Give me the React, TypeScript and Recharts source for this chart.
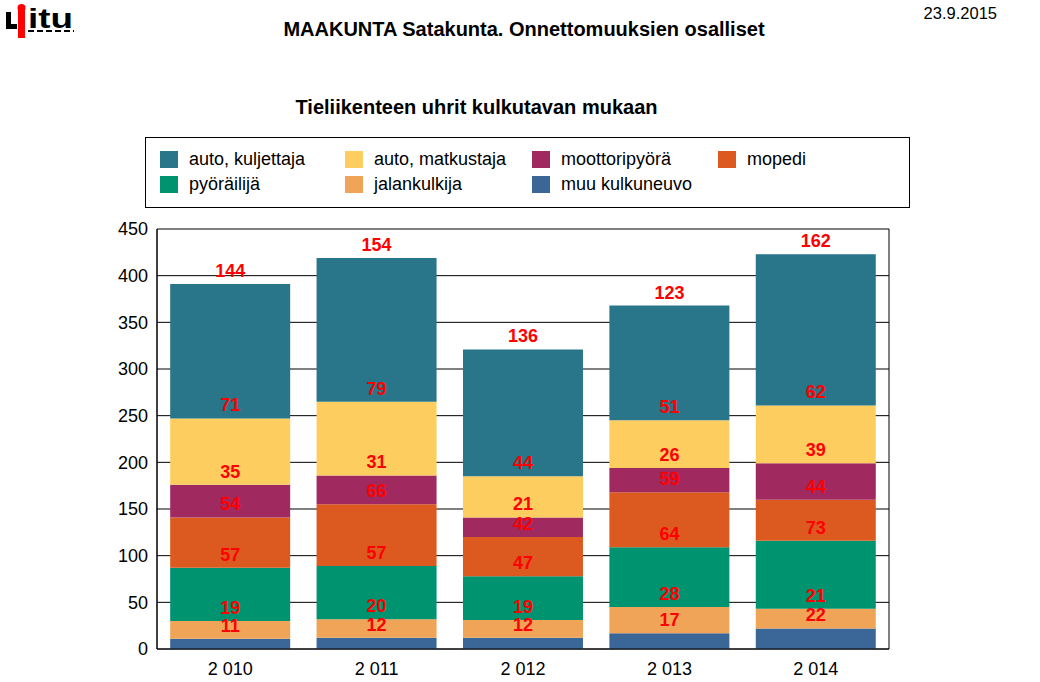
import { Bar, CartesianGrid, ComposedChart, LabelList, Line, XAxis, YAxis } from 'recharts';

const years = ['2 010', '2 011', '2 012', '2 013', '2 014'];
const muu = [11, 12, 12, 17, 22];
const jalankulkija = [19, 20, 19, 28, 21];
const pyorailija = [57, 57, 47, 64, 73];
const mopedi = [54, 66, 42, 59, 44];
const moottoripyora = [35, 31, 21, 26, 39];
const matkustaja = [71, 79, 44, 51, 62];
const kuljettaja = [144, 154, 136, 123, 162];
const yTicks = [0, 50, 100, 150, 200, 250, 300, 350, 400, 450];

// bottom to top stacking order
const series = [
  { key: 'muu', name: 'muu kulkuneuvo', values: muu, color: '#3b6698' },
  { key: 'jalan', name: 'jalankulkija', values: jalankulkija, color: '#efa457' },
  { key: 'pyora', name: 'pyöräilijä', values: pyorailija, color: '#009370' },
  { key: 'mopedi', name: 'mopedi', values: mopedi, color: '#dc5a1f' },
  { key: 'moottori', name: 'moottoripyörä', values: moottoripyora, color: '#a02a60' },
  { key: 'matk', name: 'auto, matkustaja', values: matkustaja, color: '#fecd60' },
  { key: 'kulj', name: 'auto, kuljettaja', values: kuljettaja, color: '#29758a' },
];

const data = years.map((year, i) => {
  const row: Record<string, number | string> = { year };
  let sum = 0;
  series.forEach((s) => {
    sum += s.values[i];
    row[s.key] = s.values[i];
    row[s.key + '_top'] = sum;
  });
  return row;
});

const legendItems = [
  { name: 'auto, kuljettaja', color: '#29758a', x: 160, y: 151 },
  { name: 'auto, matkustaja', color: '#fecd60', x: 345, y: 151 },
  { name: 'moottoripyörä', color: '#a02a60', x: 532, y: 151 },
  { name: 'mopedi', color: '#dc5a1f', x: 718, y: 151 },
  { name: 'pyöräilijä', color: '#009370', x: 160, y: 176 },
  { name: 'jalankulkija', color: '#efa457', x: 345, y: 176 },
  { name: 'muu kulkuneuvo', color: '#3b6698', x: 532, y: 176 },
];

const font = '"Liberation Sans", Arial, sans-serif';

function Logo() {
  return (
    <svg width={95} height={40} style={{ position: 'absolute', left: 0, top: 0 }}>
      <rect x={6} y={12} width={5} height={17} fill="#000" />
      <rect x={6} y={24} width={11} height={5} fill="#000" />
      <rect x={18} y={10} width={7} height={28} fill="#f00" />
      <circle cx={21.5} cy={8} r={4} fill="#f00" />
      <text x={28} y={28} fontFamily={font} fontWeight="bold" fontSize={27} fill="#000" textLength={45} lengthAdjust="spacingAndGlyphs">itu</text>
      <line x1={28} y1={31} x2={74} y2={31} stroke="#000" strokeWidth={2} strokeDasharray="6 3" />
    </svg>
  );
}

export default function App() {
  return (
    <div style={{ position: 'absolute', left: 0, top: 0, width: 1040, height: 682, background: '#fff', fontFamily: font, color: '#000' }}>
      <Logo />
      <div style={{ position: 'absolute', right: 43, top: 3, fontSize: 16.5, lineHeight: '20px' }}>23.9.2015</div>
      <div style={{ position: 'absolute', left: 0, width: 1048, top: 17, textAlign: 'center', fontSize: 20, fontWeight: 'bold', lineHeight: '24px' }}>
        MAAKUNTA Satakunta. Onnettomuuksien osalliset
      </div>
      <div style={{ position: 'absolute', left: 0, width: 953, top: 95, textAlign: 'center', fontSize: 20, fontWeight: 'bold', lineHeight: '24px' }}>
        Tieliikenteen uhrit kulkutavan mukaan
      </div>
      <div style={{ position: 'absolute', left: 145, top: 137, width: 763, height: 69, border: '1px solid #000' }} />
      {legendItems.map((item) => (
        <div key={item.name}>
          <div style={{ position: 'absolute', left: item.x, top: item.y, width: 18, height: 17, background: item.color }} />
          <div style={{ position: 'absolute', left: item.x + 29, top: item.y - 2, fontSize: 18, lineHeight: '20px', whiteSpace: 'nowrap' }}>
            {item.name}
          </div>
        </div>
      ))}
      <div style={{ position: 'absolute', left: 0, top: 0 }}>
        <ComposedChart width={1040} height={682} data={data} margin={{ top: 229, right: 151, bottom: 3, left: 0 }} barCategoryGap="9%">
          <CartesianGrid
            stroke="#000"
            strokeWidth={1}
            verticalCoordinatesGenerator={({ offset }: any) => [offset.left, offset.left + offset.width]}
          />
          <XAxis
            dataKey="year"
            height={30}
            tickSize={0}
            tickLine={false}
            tickMargin={13}
            axisLine={{ stroke: '#000' }}
            tick={{ fill: '#000', fontSize: 18, fontFamily: font }}
          />
          <YAxis
            domain={[0, 450]}
            ticks={yTicks}
            width={157}
            tickSize={0}
            tickLine={false}
            tickMargin={9}
            axisLine={{ stroke: '#000' }}
            tick={{ fill: '#000', fontSize: 18, fontFamily: font }}
          />
          {series.map((s) => (
            <Bar key={s.key} dataKey={s.key} stackId="a" fill={s.color} isAnimationActive={false} />
          ))}
          {series.map((s) => (
            <Line
              key={s.key + '_lbl'}
              dataKey={s.key + '_top'}
              stroke="none"
              dot={false}
              activeDot={false}
              legendType="none"
              isAnimationActive={false}
            >
              <LabelList dataKey={s.key} position="top" offset={7} fill="#ff0000" fontSize={18} fontWeight="bold" fontFamily={font} />
            </Line>
          ))}
        </ComposedChart>
      </div>
    </div>
  );
}
